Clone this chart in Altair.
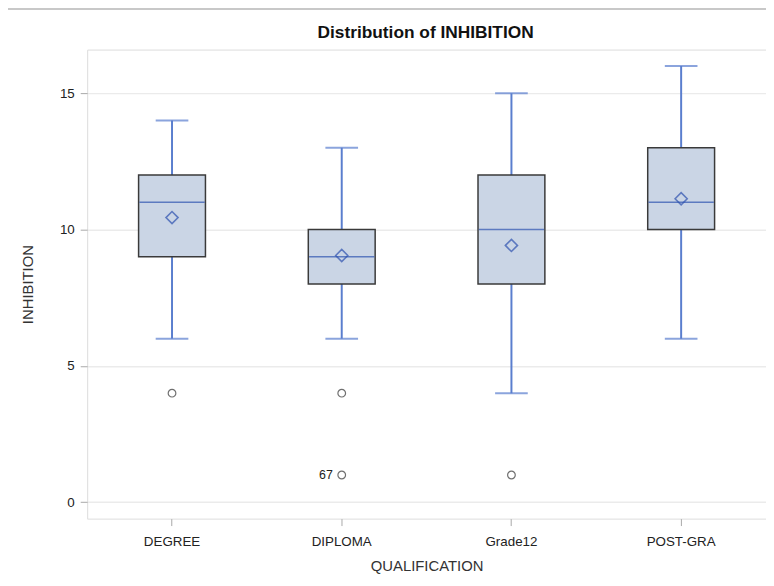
import altair as alt
import pandas as pd

categories = ["DEGREE", "DIPLOMA", "Grade12", "POST-GRA"]
whisker_low = [6, 6, 4, 6]
q1 = [9, 8, 8, 10]
median = [11, 9, 10, 11]
q3 = [12, 10, 12, 13]
whisker_high = [14, 13, 15, 16]
means = [10.44, 9.05, 9.42, 11.13]

outlier_cat = ["DEGREE", "DIPLOMA", "DIPLOMA", "Grade12"]
outlier_val = [4, 4, 1, 1]
outlier_lbl = ["", "", "67", ""]

chart_title = ["Distribution of INHIBITION"]

box = pd.DataFrame({"cat": categories, "lo": whisker_low, "q1": q1, "med": median,
                    "q3": q3, "hi": whisker_high, "mean": means})
out = pd.DataFrame({"cat": outlier_cat, "val": outlier_val, "lbl": outlier_lbl})
ttl = pd.DataFrame({"t": chart_title})

FONT = "Liberation Sans"
WHISK = "#5A7ECE"
MED = "#2E52B0"

xenc = alt.X("cat:N", sort=categories, title="QUALIFICATION",
             scale=alt.Scale(paddingInner=0, paddingOuter=0),
             axis=alt.Axis(labelAngle=0, labelFontSize=13.5, titleFontSize=15,
                           labelColor="#222", titleColor="#333", labelPadding=9,
                           titlePadding=11, tickSize=7, tickColor="#A8A8A8",
                           titleFontWeight="normal",
                           domain=False, grid=False, labelFont=FONT, titleFont=FONT))
yscale = alt.Scale(domain=[-0.6, 16.6], nice=False, zero=False)
yaxis = alt.Axis(values=[0, 5, 10, 15], labelFontSize=13.5, titleFontSize=15,
                 labelColor="#222", titleColor="#333", tickSize=7, tickColor="#A8A8A8",
                 domain=False, grid=True, gridColor="#EBEBEB", gridWidth=1.5,
                 titleFontWeight="normal",
                 labelPadding=6, titlePadding=24, labelFont=FONT, titleFont=FONT)

base = alt.Chart(box)

frame = base.mark_rect(fill=None, stroke="#C8C8C8", strokeWidth=1.5).encode(
    x=alt.value(-83), x2=alt.value(700), y=alt.value(-41), y2=alt.value(560))
title = alt.Chart(ttl).mark_text(fontSize=17.5, font=FONT, fontWeight="bold", color="#111",
                                 baseline="middle").encode(
    x=alt.value(342), y=alt.value(-17), text="t:N")
whisk = base.mark_rule(color=WHISK, strokeWidth=2).encode(
    x=xenc, y=alt.Y("lo:Q", scale=yscale, axis=yaxis, title="INHIBITION"), y2="hi:Q")
cap_lo = base.mark_tick(color=WHISK, size=33, thickness=2).encode(x=xenc, y=alt.Y("lo:Q", scale=yscale))
cap_hi = base.mark_tick(color=WHISK, size=33, thickness=2).encode(x=xenc, y=alt.Y("hi:Q", scale=yscale))
bars = base.mark_bar(width=alt.RelativeBandSize(0.394), fill="#CAD5E5", stroke="#3A3A3A",
                     strokeWidth=1.5).encode(x=xenc, y=alt.Y("q1:Q", scale=yscale), y2="q3:Q")
med = base.mark_tick(color=MED, size=66, thickness=1.5).encode(x=xenc, y=alt.Y("med:Q", scale=yscale))
mean = base.mark_point(shape="diamond", size=150, color=MED, strokeWidth=1.6,
                       filled=False).encode(x=xenc, y=alt.Y("mean:Q", scale=yscale))

pts = alt.Chart(out).mark_point(shape="circle", size=60, color="#333", strokeWidth=1.2,
                                filled=False).encode(x=xenc, y=alt.Y("val:Q", scale=yscale))
lbls = alt.Chart(out).mark_text(align="right", dx=-9, fontSize=12.5, font=FONT,
                                color="#222").encode(x=xenc, y=alt.Y("val:Q", scale=yscale), text="lbl:N")

chart = alt.layer(frame, title, whisk, cap_lo, cap_hi, bars, med, mean, pts, lbls).properties(
    width=686, height=474,
    autosize=alt.AutoSizeParams(type="none"),
    padding={"left": 80, "top": 39, "right": 0, "bottom": 60},
).configure_view(stroke="#A8A8A8", strokeWidth=1.5).configure(background="white")

chart.save("out.html", embed_options={"renderer": "svg", "actions": False})
